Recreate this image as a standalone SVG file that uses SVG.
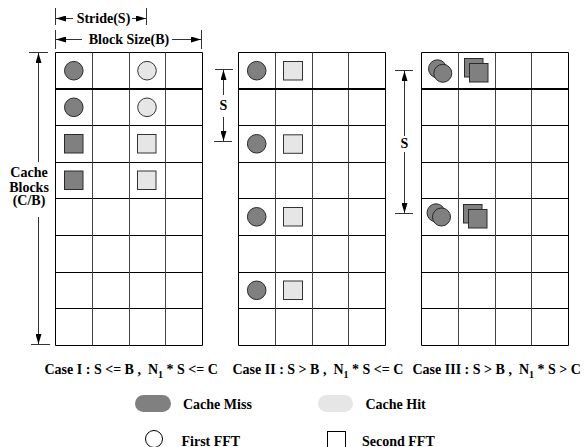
<svg xmlns="http://www.w3.org/2000/svg" width="588" height="447" viewBox="0 0 588 447">
<style>
text{font-family:"Liberation Serif","Times New Roman",serif;font-weight:bold;font-size:14px;fill:#000;white-space:pre}
.h{stroke:#000;stroke-width:1;fill:none}
.v{stroke:#444;stroke-width:1;fill:none}
.thick{stroke:#000;stroke-width:2.2}
.dk{fill:#808080;stroke:#2a2a2a;stroke-width:1}
.lt{fill:#e6e6e6;stroke:#333;stroke-width:1}
.ln{stroke:#000;stroke-width:1;fill:none}
.dim{stroke:#333;stroke-width:1;fill:none}
</style>
<defs>
<marker id="ah" viewBox="0 0 10 6" refX="10" refY="3" markerWidth="10" markerHeight="6" markerUnits="userSpaceOnUse" orient="auto">
<path d="M0,0 L10,3 L0,6 Z" fill="#000"/>
</marker>
<g id="grid">
<path class="h" d="M0,0H147M0,73H147M0,110H147M0,146H147M0,183H147M0,220H147M0,256H147M0,293H147"/>
<path class="v" d="M37,0V293M74,0V293M110,0V293"/>
<path class="h" d="M0,0V293M147,0V293"/>
<path class="thick" d="M0,36.5H147"/>
</g>
</defs>

<g id="dimensions">
<path class="dim" d="M55.5,8V25M146.5,8V25"/>
<path class="dim" d="M73,18.5H56" marker-end="url(#ah)"/>
<path class="dim" d="M132,18.5H146" marker-end="url(#ah)"/>
<text x="103.5" y="23" text-anchor="middle">Stride(S)</text>
<path class="dim" d="M55.5,30V49M201.5,30V49"/>
<path class="dim" d="M82,39.5H56" marker-end="url(#ah)"/>
<path class="dim" d="M172,39.5H201" marker-end="url(#ah)"/>
<text x="129" y="43.5" text-anchor="middle">Block Size(B)</text>

<path class="dim" d="M29,52.5H48M31,344.5H50"/>
<path class="dim" d="M38.5,162V53" marker-end="url(#ah)"/>
<path class="dim" d="M38.5,217V344" marker-end="url(#ah)"/>
<text x="29" y="177" text-anchor="middle">Cache</text>
<text x="29" y="191.5" text-anchor="middle">Blocks</text>
<text x="29" y="205" text-anchor="middle">(C/B)</text>

<path class="dim" d="M215,69.5H233M214,141.5H232"/>
<path class="dim" d="M223.5,95V70" marker-end="url(#ah)"/>
<path class="dim" d="M223.5,117V141" marker-end="url(#ah)"/>
<text x="223.5" y="110" text-anchor="middle">S</text>

<path class="dim" d="M395,70.5H413M395,213.5H413"/>
<path class="dim" d="M404.5,136V71" marker-end="url(#ah)"/>
<path class="dim" d="M404.5,152V213" marker-end="url(#ah)"/>
<text x="404.5" y="148" text-anchor="middle">S</text>
</g>

<g id="case1">
<use href="#grid" x="55.5" y="52.5"/>
<circle class="dk" cx="73.8" cy="70.7" r="9.3"/>
<circle class="lt" cx="147" cy="70.7" r="9.3"/>
<circle class="dk" cx="73.8" cy="107.3" r="9.3"/>
<circle class="lt" cx="147" cy="107.3" r="9.3"/>
<rect class="dk" x="64.5" y="134.5" width="18.5" height="18.5"/>
<rect class="lt" x="137.5" y="134.5" width="18.5" height="18.5"/>
<rect class="dk" x="64.5" y="171" width="18.5" height="18.5"/>
<rect class="lt" x="137.5" y="171" width="18.5" height="18.5"/>
</g>

<g id="case2">
<use href="#grid" x="238.5" y="52.5"/>
<circle class="dk" cx="256.7" cy="70.7" r="9.3"/>
<rect class="lt" x="283.5" y="61.5" width="19" height="18.5"/>
<circle class="dk" cx="256.7" cy="143.8" r="9.3"/>
<rect class="lt" x="283.5" y="134.8" width="19" height="18.5"/>
<circle class="dk" cx="256.7" cy="216.8" r="9.3"/>
<rect class="lt" x="283.5" y="207.5" width="19" height="18.5"/>
<circle class="dk" cx="256.7" cy="290.3" r="9.3"/>
<rect class="lt" x="283.5" y="281" width="19" height="18.5"/>
</g>

<g id="case3">
<use href="#grid" x="421.5" y="52.5"/>
<circle class="dk" cx="437.5" cy="68.8" r="9"/>
<circle class="dk" cx="442.8" cy="73.3" r="9"/>
<rect class="dk" x="464.5" y="58.5" width="18.5" height="18.5"/>
<rect class="dk" x="469.5" y="63.5" width="18.5" height="18.5"/>
<circle class="dk" cx="436" cy="212.8" r="9"/>
<circle class="dk" cx="441.5" cy="217" r="9"/>
<rect class="dk" x="463.5" y="204.5" width="18.5" height="18.5"/>
<rect class="dk" x="468.5" y="209.5" width="18.5" height="18.5"/>
</g>

<g id="labels">
<text x="44.5" y="374">Case I : S &lt;= B ,  N<tspan dy="4" font-size="10">1</tspan><tspan dy="-4"> * S &lt;= C</tspan></text>
<text x="232.5" y="374">Case II : S &gt; B ,  N<tspan dy="4" font-size="10">1</tspan><tspan dy="-4"> * S &lt;= C</tspan></text>
<text x="412.5" y="374">Case III : S &gt; B ,  N<tspan dy="4" font-size="10">1</tspan><tspan dy="-4"> * S &gt; C</tspan></text>
</g>

<g id="legend">
<rect x="135" y="395" width="36" height="17" rx="8.5" fill="#808080"/>
<text x="183" y="408.5">Cache Miss</text>
<rect x="318" y="395" width="35" height="17" rx="8.5" fill="#e6e6e6"/>
<text x="365.5" y="408.5">Cache Hit</text>
<circle cx="154" cy="439" r="8.5" fill="none" stroke="#000" stroke-width="1"/>
<text x="181.5" y="445.5">First FFT</text>
<rect x="327.5" y="431.5" width="18" height="18" fill="none" stroke="#000" stroke-width="1"/>
<text x="362" y="445.5">Second FFT</text>
</g>
</svg>
